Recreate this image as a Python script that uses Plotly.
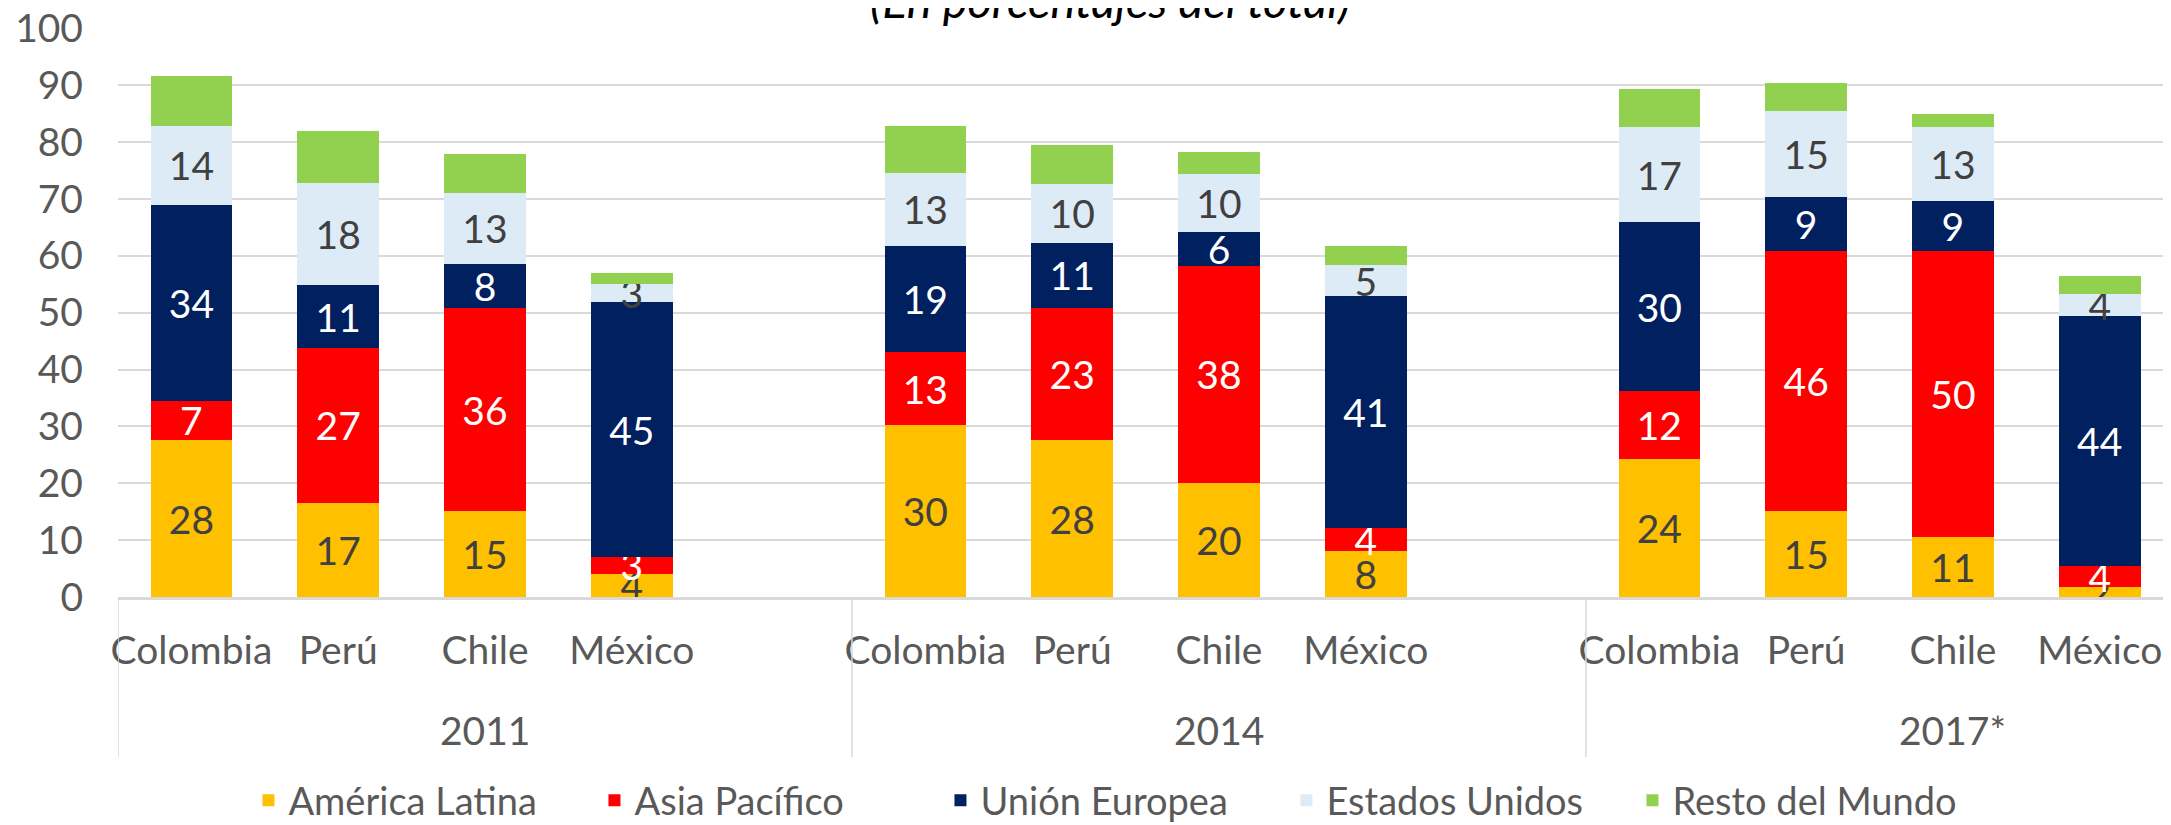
import plotly.graph_objects as go

FONT = "Lato"

years = ["2011", "2014", "2017*"]
countries = ["Colombia", "Perú", "Chile", "México"]

# one value per bar, year by year (Colombia, Perú, Chile, México)
america_latina = [27.6, 16.6, 15.1, 4.1, 30.2, 27.6, 20.1, 8.1, 24.2, 15.1, 10.6, 1.7]
asia_pacifico = [6.9, 27.2, 35.7, 2.9, 12.8, 23.3, 38.1, 4.0, 12.0, 45.8, 50.2, 3.8]
union_europea = [34.4, 11.0, 7.7, 44.8, 18.8, 11.4, 5.9, 40.8, 29.7, 9.4, 8.8, 43.9]
estados_unidos = [14.0, 18.0, 12.6, 3.3, 12.8, 10.3, 10.2, 5.4, 16.7, 15.1, 13.0, 3.9]
resto_mundo = [8.7, 9.2, 6.8, 1.9, 8.3, 6.8, 3.9, 3.5, 6.7, 4.9, 2.3, 3.1]

series = [
    ("América Latina", america_latina, "#FFC000", "#404040", True),
    ("Asia Pacífico", asia_pacifico, "#FF0000", "#FFFFFF", True),
    ("Unión Europea", union_europea, "#002060", "#FFFFFF", True),
    ("Estados Unidos", estados_unidos, "#DDEBF7", "#404040", True),
    ("Resto del Mundo", resto_mundo, "#92D050", "#404040", False),
]

# each year takes 5 slots: 4 countries and an empty one
slot = len(countries) + 1
x_pos = [g * slot + c for g in range(len(years)) for c in range(len(countries))]

fig = go.Figure()

for name, values, color, text_color, labelled in series:
    fig.add_trace(
        go.Bar(
            x=x_pos,
            y=values,
            name=name,
            marker_color=color,
            marker_line_width=0,
            texttemplate="%{y:.0f}" if labelled else "",
            textposition="inside" if labelled else "none",
            insidetextanchor="middle",
            constraintext="none",
            textangle=0,
            textfont=dict(family=FONT, size=39, color=text_color),
        )
    )

# year labels and group dividers under the axis
annotations = []
shapes = []
for g, year in enumerate(years):
    annotations.append(
        dict(
            x=g * slot + (slot - 1) / 2,
            y=0,
            xref="x",
            yref="paper",
            yanchor="middle",
            yshift=-133,
            text=year,
            showarrow=False,
            font=dict(family=FONT, size=39, color="#595959"),
        )
    )
    shapes.append(
        dict(
            type="line",
            xref="x",
            yref="paper",
            x0=g * slot - 0.5,
            x1=g * slot - 0.5,
            y0=0,
            y1=-0.281,
            line=dict(color="#D9D9D9", width=1.5),
        )
    )

# title sits mostly above the page, as in the source image
annotations.append(
    dict(
        x=(1102 - 110) / 2061,
        y=1,
        xref="paper",
        yref="paper",
        yanchor="bottom",
        yshift=-2,
        text="<i>(En porcentajes del total)</i>",
        showarrow=False,
        font=dict(family=FONT, size=47, color="#000000"),
    )
)

# the page body adds an 8px offset, so margins are trimmed by 8
fig.update_layout(
    width=2171,
    height=825,
    margin=dict(l=110, r=0, t=20, b=236),
    barmode="stack",
    bargap=0.444,
    plot_bgcolor="white",
    paper_bgcolor="white",
    font=dict(family=FONT, size=39, color="#595959"),
    showlegend=True,
    legend=dict(
        orientation="h",
        x=0.483,
        xanchor="center",
        y=-0.413,
        yanchor="bottom",
        entrywidth=301,
        font=dict(family=FONT, size=38, color="#595959"),
        traceorder="normal",
    ),
    annotations=annotations,
    shapes=shapes,
)

fig.update_xaxes(
    range=[-0.5, 13.54],
    tickvals=x_pos,
    ticktext=countries * len(years),
    ticks="",
    ticklabelstandoff=17,
    ticklabeloverflow="allow",
    showgrid=False,
    zeroline=False,
    showline=True,
    linecolor="#D9D9D9",
    linewidth=2.5,
    automargin=False,
    tickfont=dict(family=FONT, size=39, color="#595959"),
)

fig.update_yaxes(
    range=[0, 100.05],
    dtick=10,
    showgrid=True,
    gridcolor="#D9D9D9",
    gridwidth=1.5,
    zeroline=False,
    ticks="",
    ticklabelstandoff=34,
    ticklabeloverflow="allow",
    automargin=False,
    tickfont=dict(family=FONT, size=39, color="#595959"),
)

fig.write_html("out.html")
